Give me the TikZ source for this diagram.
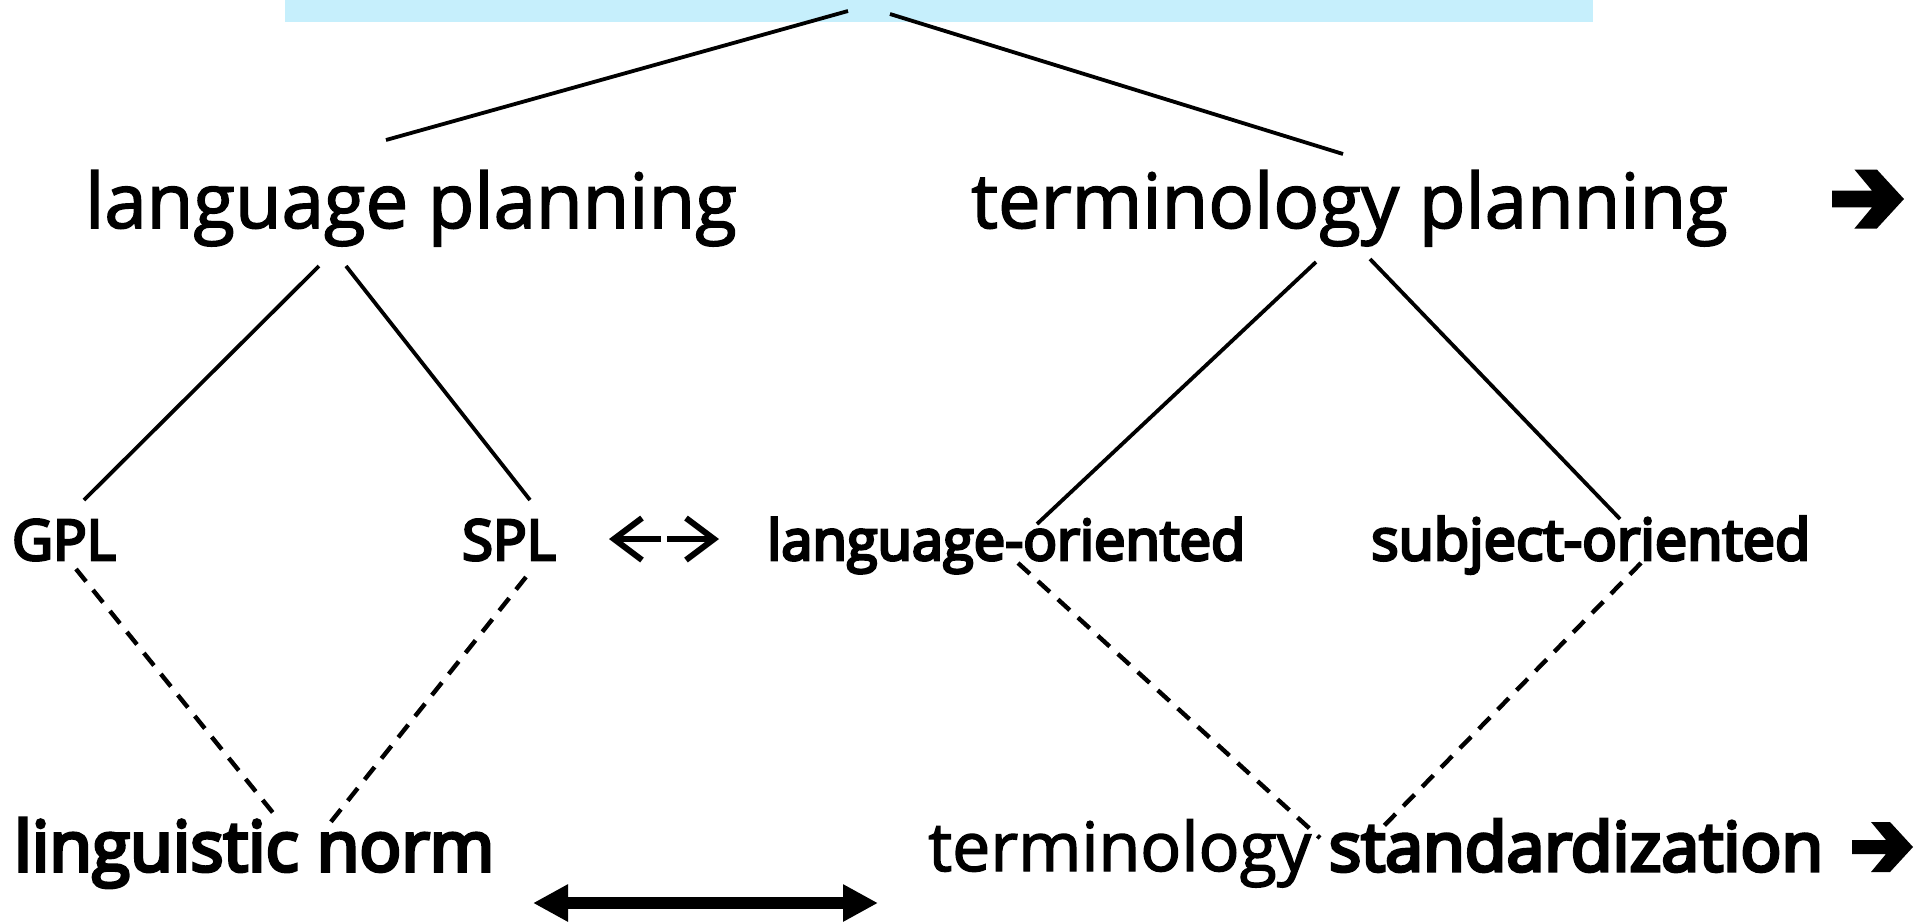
\documentclass[tikz,border=0pt]{standalone}
\usepackage{fontspec}
\setmainfont{Open Sans}
\newfontfamily\regfont{Open Sans}[FakeBold=2]
\newfontfamily\semifont{Open Sans}[FakeBold=5]
\usetikzlibrary{arrows.meta}
\definecolor{barblue}{RGB}{198,239,252}
\tikzset{
  lbl/.style={inner sep=0pt, anchor=base west},
  toptxt/.style={lbl, font=\regfont\fontsize{76}{80}\selectfont},
  midtxt/.style={lbl, font=\semifont\fontsize{56}{60}\selectfont},
  bottxt/.style={lbl, font=\regfont\fontsize{68}{70}\selectfont},
  solidline/.style={line width=3.8pt},
  dashline/.style={line width=4.4pt, dash pattern=on 16pt off 11pt},
  bigarrow/.style={line width=12pt, {Triangle[length=35pt,width=35pt]}-{Triangle[length=35pt,width=35pt]}},
  heavyarrow/.style={fill=black, draw=none},
  thinarrow/.style={line width=6pt, line cap=butt, line join=miter},
}
\begin{document}
\begin{tikzpicture}[x=1pt,y=-1pt]
\useasboundingbox (0,0) rectangle (1932,922);
% top bar
\node[fill=barblue, draw=none, inner sep=0pt, minimum width=1308pt, minimum height=22pt, anchor=north west] (bar) at (285,0) {};
% texts
\node[toptxt] (lp) at (85,228) {language planning};
\node[toptxt] (tp) at (971,228) {terminology planning};
\node[midtxt] (gpl) at (12,560) {GPL};
\node[midtxt] (spl) at (462,560) {SPL};
\node[midtxt] (lo) at (767,560) {language-oriented};
\node[midtxt, font=\semifont\fontsize{57.5}{60}\selectfont] (so) at (1371,560) {subject-oriented};
\node[lbl, font=\semifont\fontsize{69.5}{72}\selectfont] (ln) at (14,871) {linguistic norm};
\node[bottxt] (ts) at (928,871) {terminology {\semifont standardization}};
% heavy arrows
\coordinate (arrT) at (1832,199);
\coordinate (arrB) at (1852,847);
\fill[heavyarrow, shift={(arrT)}, scale=1.18]
  (0,-7) -- (34,-7) -- (19,-25) -- (38,-25) -- (61,0) -- (38,25) -- (19,25) -- (34,7) -- (0,7) -- cycle;
\fill[heavyarrow, shift={(arrB)}]
  (0,-7) -- (34,-7) -- (19,-25) -- (38,-25) -- (61,0) -- (38,25) -- (19,25) -- (34,7) -- (0,7) -- cycle;
% thin double arrows between SPL and language-oriented
\coordinate (lrA) at (614,539);
\coordinate (lrB) at (661,539);
\coordinate (lrC) at (667,539);
\coordinate (lrD) at (714,539);
\draw[thinarrow] (lrB) -- ([xshift=3pt]lrA);
\draw[thinarrow] ([xshift=28pt,yshift=-21pt]lrA) -- (lrA) -- ([xshift=28pt,yshift=21pt]lrA);
\draw[thinarrow] (lrC) -- ([xshift=-3pt]lrD);
\draw[thinarrow] ([xshift=-28pt,yshift=-21pt]lrD) -- (lrD) -- ([xshift=-28pt,yshift=21pt]lrD);
% connector end points
\coordinate (barL) at (848,11);
\coordinate (barR) at (890,14);
\coordinate (lpT) at (386,140);
\coordinate (tpT) at (1343,154);
\coordinate (lpBL) at (319,266);
\coordinate (lpBR) at (346,266);
\coordinate (tpBL) at (1316,262);
\coordinate (tpBR) at (1370,259);
\coordinate (gplT) at (84,500);
\coordinate (splT) at (530,500);
\coordinate (loT) at (1037,524);
\coordinate (soT) at (1620,519);
\coordinate (gplB) at (76,569);
\coordinate (splB) at (526,577);
\coordinate (loB) at (1018,563);
\coordinate (soB) at (1641,563);
\coordinate (lnL) at (278,819);
\coordinate (lnR) at (330,823);
\coordinate (tsL) at (1320,838);
\coordinate (tsR) at (1375,835);
\coordinate (dblL) at (533,903);
\coordinate (dblR) at (878,903);
% solid lines
\draw[solidline] (barL) -- (lpT);
\draw[solidline] (barR) -- (tpT);
\draw[solidline] (lpBL) -- (gplT);
\draw[solidline] (lpBR) -- (splT);
\draw[solidline] (tpBL) -- (loT);
\draw[solidline] (tpBR) -- (soT);
% dashed lines
\draw[dashline] (gplB) -- (lnL);
\draw[dashline] (splB) -- (lnR);
\draw[dashline] (loB) -- (tsL);
\draw[dashline] (soB) -- (tsR);
% double arrow
\draw[bigarrow] (dblL) -- (dblR);
\end{tikzpicture}
\end{document}
